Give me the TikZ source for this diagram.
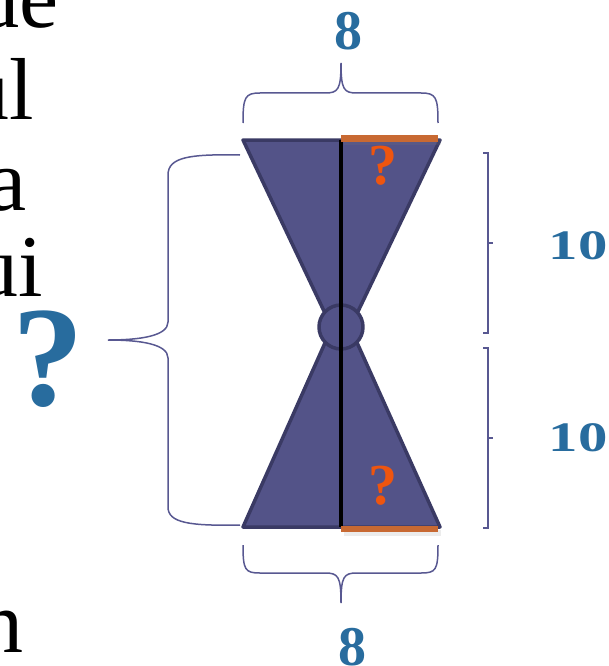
\documentclass[tikz,border=0pt]{standalone}
\usepackage{fontspec}
\setmainfont{Liberation Serif}
\usetikzlibrary{positioning}
\definecolor{bowfill}{RGB}{83,83,136}
\definecolor{bowline}{RGB}{58,58,100}
\definecolor{bracecol}{RGB}{88,88,145}
\definecolor{barorange}{RGB}{200,105,50}
\definecolor{numblue}{RGB}{40,108,158}
\definecolor{qorange}{RGB}{238,85,15}

\begin{document}
\begin{tikzpicture}[x=1pt, y=-1pt,
    half/.style={fill=bowfill, draw=bowline, line width=3.5pt, line join=round},
    bracket/.style={draw=bracecol, line width=1.5pt},
    bar/.style={draw=barorange, line width=6.5pt},
    num/.style={text=numblue, inner sep=0, font=\bfseries\fontsize{56}{56}\selectfont},
    word/.style={anchor=base east, inner sep=0, font=\fontsize{88}{90}\selectfont},
    qsign/.style={text=qorange, inner sep=0, font=\bfseries\fontsize{58}{58}\selectfont}]
    \useasboundingbox (0,0) rectangle (609,666);
    \clip (0,0) rectangle (609,666);

    % cut-off words on the left
    \node[word] (w1) at (59,28) {de};
    \node[word] (w2) at (34,120) {ul};
    \node[word] (w3) at (27,210) {a};
    \node[word] (w4) at (43,296) {ui};
    \node[word] (w5) at (24,652) {n};
    \node[text=numblue, inner sep=0, font=\bfseries\fontsize{143}{143}\selectfont] (bigq) at (48,359) {?};

    % the bow tie
    \coordinate (tl) at (243,140);
    \coordinate (tr) at (440,140);
    \coordinate (bl) at (243,527);
    \coordinate (br) at (440,527);
    \draw[half] (tl) -- (tr) -- (341,347) -- cycle;
    \draw[half] (bl) -- (br) -- (341,307) -- cycle;
    \node[circle, half, minimum size=44pt, inner sep=0] (hub) at (341,327) {};
    \draw[line width=3.5pt] (hub.center |- tl) -- (hub.center |- bl);

    \draw[bar, gray, opacity=0.15] (344,142) -- (441,142);
    \draw[bar, gray, opacity=0.15] (344,533) -- (441,533);
    \draw[bar] (341,138.5) -- (438,138.5);
    \draw[bar] (341,529) -- (438,529);
    \node[qsign] (q1) at (383,166) {?};
    \node[qsign] (q2) at (383,486) {?};

    % braces
    \draw[bracket] (243,123) .. controls (243,97) and (245,93) .. (260,93) -- (325,93)
        .. controls (338,93) and (341,90) .. (341,63)
        .. controls (341,90) and (344,93) .. (357,93) -- (421,93)
        .. controls (436,93) and (438,97) .. (438,123);
    \draw[bracket] (243,545) .. controls (243,570) and (245,573) .. (260,573) -- (325,573)
        .. controls (338,573) and (341,576) .. (341,603)
        .. controls (341,576) and (344,573) .. (357,573) -- (421,573)
        .. controls (436,573) and (438,570) .. (438,545);
    \draw[bracket] (240,155) .. controls (190,154) and (168,157) .. (168,175) -- (168,322)
        .. controls (168,336) and (140,340) .. (108,340)
        .. controls (140,340) and (168,344) .. (168,358) -- (168,507)
        .. controls (168,523) and (190,526) .. (240,525);
    \draw[bracket] (483,153) -- (488,153) -- (488,333) -- (483,333) (488,243) -- (493,243);
    \draw[bracket] (483,348) -- (488,348) -- (488,528) -- (483,528) (488,438) -- (493,438);

    % lengths
    \node[num] (topw) at (348,31) {8};
    \node[num] (botw) at (352,647) {8};
    \node[num, font=\bfseries\fontsize{42}{42}\selectfont] (uph) at (578,246) {\scalebox{1.4}[1]{10}};
    \node[num, font=\bfseries\fontsize{42}{42}\selectfont] (loh) at (578,438) {\scalebox{1.4}[1]{10}};
\end{tikzpicture}
\end{document}
